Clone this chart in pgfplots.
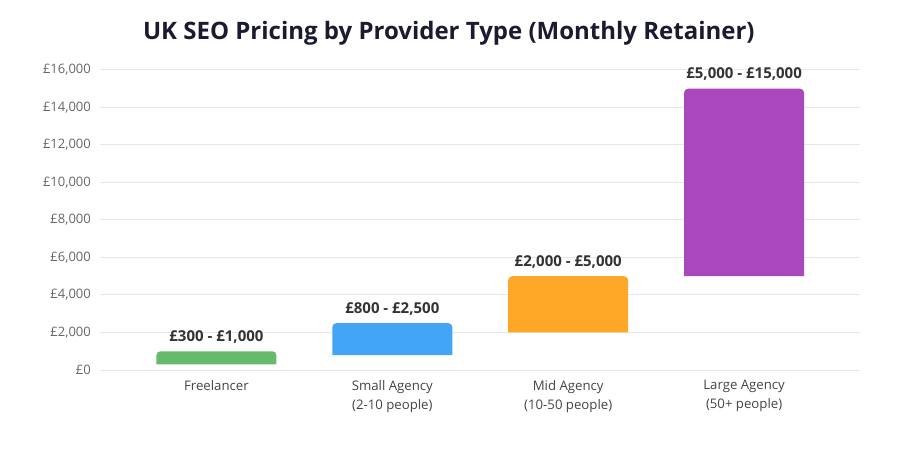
\documentclass[border=0pt]{standalone}
\usepackage{pgfplots}
\pgfplotsset{compat=1.18}
\usepackage{pgfplotstable}
\usepackage{fontspec}
\setmainfont{Open Sans}

\definecolor{freelance}{HTML}{66BB6A}
\definecolor{smallag}{HTML}{42A5F5}
\definecolor{midag}{HTML}{FFA726}
\definecolor{largeag}{HTML}{AB47BC}
\definecolor{gridgray}{HTML}{E6E6E6}
\definecolor{ticktext}{HTML}{666666}
\definecolor{cattext}{HTML}{444444}
\definecolor{valtext}{HTML}{333333}
\definecolor{titletext}{HTML}{1B1B2F}

% monthly retainer ranges (GBP)
\pgfplotstableread{
x low high label
0 300 1000 {£300 - £1,000}
1 800 2500 {£800 - £2,500}
2 2000 5000 {£2,000 - £5,000}
3 5000 15000 {£5,000 - £15,000}
}\pricing

\begin{document}
\begin{tikzpicture}
\useasboundingbox (-100pt,-80pt) rectangle (800pt,370pt);
\begin{axis}[
  at={(0,0)}, anchor=south west,
  scale only axis,
  width=760pt, height=300pt,
  xmin=-0.662, xmax=3.659,
  ymin=0, ymax=16000,
  ytick={0,2000,...,16000},
  xtick={0,1,2,3},
  xticklabels={Freelancer, Small Agency\\(2-10 people), Mid Agency\\(10-50 people), Large Agency\\(50+ people)},
  axis line style={draw=none},
  major tick length=0pt,
  ymajorgrids,
  grid style={gridgray, line width=1pt},
  /pgf/number format/assume math mode=true,
  /pgf/number format/1000 sep={,},
  scaled y ticks=false,
  yticklabel={£\pgfmathprintnumber{\tick}},
  yticklabel style={font=\fontsize{13}{15}\selectfont, text=ticktext, inner sep=0pt, xshift=-9pt},
  xticklabel style={font=\fontsize{13.2}{19}\selectfont, text=cattext, align=center, inner sep=0pt, yshift=-10pt},
  title={UK SEO Pricing by Provider Type (Monthly Retainer)},
  title style={font=\fontsize{24}{27}\bfseries\selectfont, text=titletext,
    at={(axis description cs:0.459,1)}, anchor=base, yshift=24pt},
  clip=false,
]
% open paths: the fill closes the base with a straight edge, so only the top corners round
\addplot[fill=freelance, draw=none, rounded corners=4pt] coordinates {(-0.341,300) (-0.341,1000) (0.341,1000) (0.341,300)};
\addplot[fill=smallag, draw=none, rounded corners=4pt] coordinates {(0.659,800) (0.659,2500) (1.341,2500) (1.341,800)};
\addplot[fill=midag, draw=none, rounded corners=4pt] coordinates {(1.659,2000) (1.659,5000) (2.341,5000) (2.341,2000)};
\addplot[fill=largeag, draw=none, rounded corners=4pt] coordinates {(2.659,5000) (2.659,15000) (3.341,15000) (3.341,5000)};
% range labels above each bar
\addplot[draw=none, mark=none, nodes near coords, point meta=explicit symbolic,
  every node near coord/.append style={font=\fontsize{15}{17}\bfseries\selectfont, text=valtext, anchor=base, inner sep=0pt, yshift=10pt}]
  table[x=x, y=high, meta=label] {\pricing};
\end{axis}
\end{tikzpicture}
\end{document}
